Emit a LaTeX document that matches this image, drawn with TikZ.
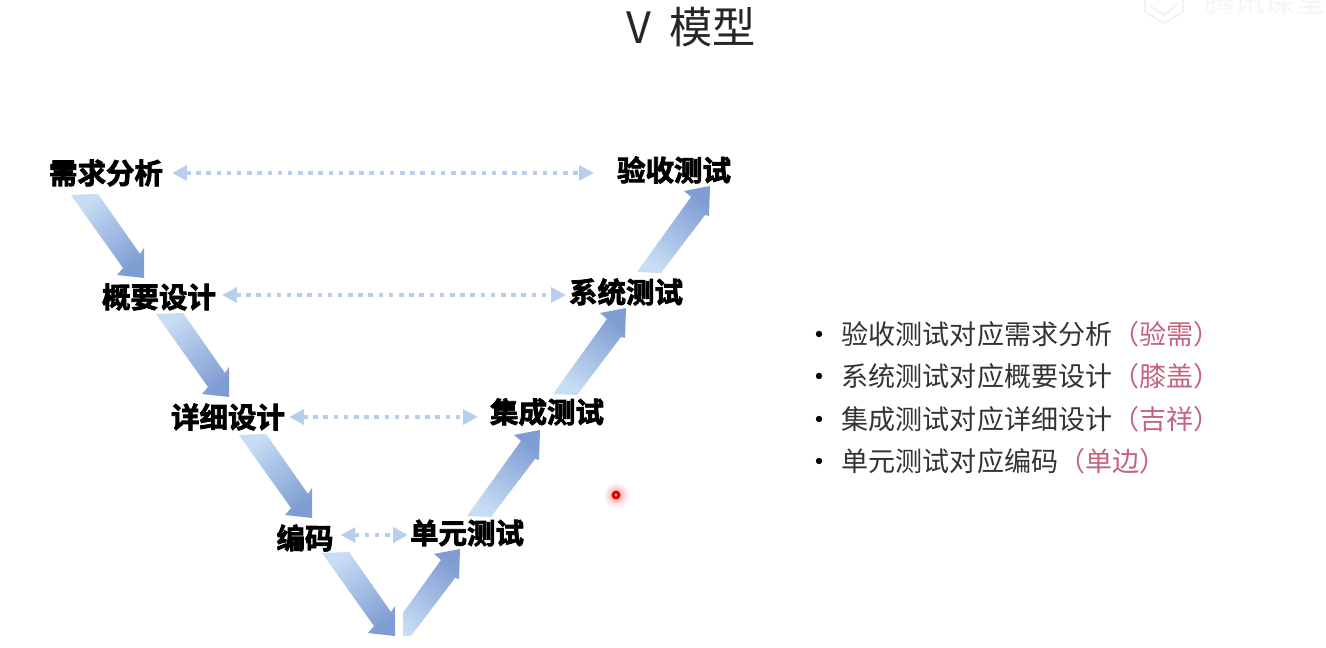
\documentclass[tikz,border=0pt]{standalone}
\usepackage{fontspec}
\setmainfont{Noto Sans CJK SC}
\newfontfamily\heavycjk[FakeBold=2.8]{Noto Sans CJK SC Bold}
\usetikzlibrary{arrows.meta, positioning, calc}
\definecolor{arrowlight}{HTML}{C6DDF4}
\definecolor{arrowdark}{HTML}{7F9DD2}
\definecolor{linkblue}{HTML}{B9CEEA}
\definecolor{noterose}{HTML}{C4647C}
\definecolor{bodygray}{HTML}{333333}
\tikzset{
    stagelabel/.style={font=\heavycjk\fontsize{8.1pt}{9pt}\selectfont, inner sep=0pt, text=black},
    linkarrow/.style={draw=linkblue, line width=1.3pt, dash pattern=on 1.3pt off 1.6pt,
        {Triangle[width=4.2pt,length=4.2pt,fill=linkblue,sep=-1pt]}-{Triangle[width=4.2pt,length=4.2pt,fill=linkblue,sep=-1pt]}},
    pics/fatdown/.style={code={
        \shade[top color=arrowlight, bottom color=arrowdark, shading angle=38]
            (-0.73,0.83) -- (-0.46,0.84) -- (-0.04,0.24) -- (0,0.30) -- (0,0)
            -- (-0.27,0.03) -- (-0.21,0.10) -- cycle;
    }},
    pics/fatup/.style={code={
        \shade[top color=arrowdark, bottom color=arrowlight, shading angle=-36]
            (-0.73,-0.86) -- (-0.49,-0.87) -- (-0.05,-0.29) -- (-0.01,-0.30) -- (0,0)
            -- (-0.26,-0.05) -- (-0.19,-0.11) -- cycle;
    }},
}
\begin{document}
\begin{tikzpicture}
    \useasboundingbox (0,0) rectangle (13.26,6.48);
    \fill[white] (0,0) rectangle (13.26,6.48);

    % title and watermark
    \node[font=\fontsize{12.3pt}{14pt}\selectfont, text=black!85] (title) at (6.91,6.21) {V\hspace{0.42em}模型};
    \node[font=\fontsize{8.6pt}{10pt}\selectfont\itshape, text=black!4, anchor=west] (mark) at (11.92,6.47) {腾讯课堂};
    \draw[black!5, line width=0.5pt] (11.45,6.48) -- (11.45,6.36) -- (11.64,6.25) -- (11.83,6.36) -- (11.83,6.48);
    \draw[black!5, line width=0.5pt] (11.50,6.42) -- (11.64,6.33) -- (11.78,6.44);

    % left branch
    \node[stagelabel] (xuqiu)  at (1.06,4.75) {需求分析};
    \node[stagelabel] (gaiyao) at (1.59,3.51) {概要设计};
    \node[stagelabel] (xiangxi) at (2.28,2.31) {详细设计};
    \node[stagelabel] (bianma) at (3.05,1.10) {编码};
    % right branch
    \node[stagelabel] (yanshou) at (6.74,4.78) {验收测试};
    \node[stagelabel] (xitong)  at (6.26,3.56) {系统测试};
    \node[stagelabel] (jicheng) at (5.47,2.36) {集成测试};
    \node[stagelabel] (danyuan) at (4.67,1.15) {单元测试};

    % fat arrows, placed by their tips
    \coordinate (downA) at (1.44,3.70);
    \coordinate (downB) at (2.29,2.51);
    \coordinate (downC) at (3.12,1.30);
    \coordinate (downD) at (3.95,0.12);
    \coordinate (upA) at (4.60,0.99);
    \coordinate (upB) at (5.40,2.18);
    \coordinate (upC) at (6.26,3.40);
    \coordinate (upD) at (7.10,4.62);
    \foreach \tip in {downA,downB,downC,downD}
        \pic at (\tip) {fatdown};
    \foreach \tip in {upB,upC,upD}
        \pic at (\tip) {fatup};
    \begin{scope}
        \clip (4.03,0) rectangle (5,1.2);
        \pic at (upA) {fatup};
    \end{scope}

    % dotted links
    \draw[linkarrow, shorten <=0.12cm, shorten >=0.26cm] (xuqiu.east) -- (xuqiu.east -| yanshou.west);
    \draw[linkarrow, shorten <=0.09cm, shorten >=0.06cm] ([yshift=0.02cm]gaiyao.east) -- ([yshift=0.02cm]gaiyao.east -| xitong.west);
    \draw[linkarrow, shorten <=0.07cm, shorten >=0.15cm] (xiangxi.east) -- (xiangxi.east -| jicheng.west);
    \draw[linkarrow, shorten <=0.10cm, shorten >=0.05cm] ([yshift=0.03cm]bianma.east) -- ([yshift=0.03cm]bianma.east -| danyuan.west);

    % list on the right
    \foreach \n/\y/\txt/\note in {a/3.14/验收测试对应需求分析/（验需）,
                                  b/2.72/系统测试对应概要设计/（膝盖）,
                                  c/2.29/集成测试对应详细设计/（吉祥）,
                                  d/1.87/单元测试对应编码/（单边）}{
        \fill[black] (8.19,\y) circle (0.032);
        \node[anchor=west, inner sep=0pt, text=bodygray, font=\fontsize{7.7pt}{9pt}\selectfont] (line\n) at (8.41,\y)
            {\txt\textcolor{noterose}{\note}};
    }

    % pointer spot
    \shade[inner color=red!40, outer color=white] (6.16,1.53) circle (0.13);
    \fill[red!85!black] (6.16,1.53) circle (0.045);
    \fill[red!35] (6.16,1.53) circle (0.016);
\end{tikzpicture}
\end{document}
